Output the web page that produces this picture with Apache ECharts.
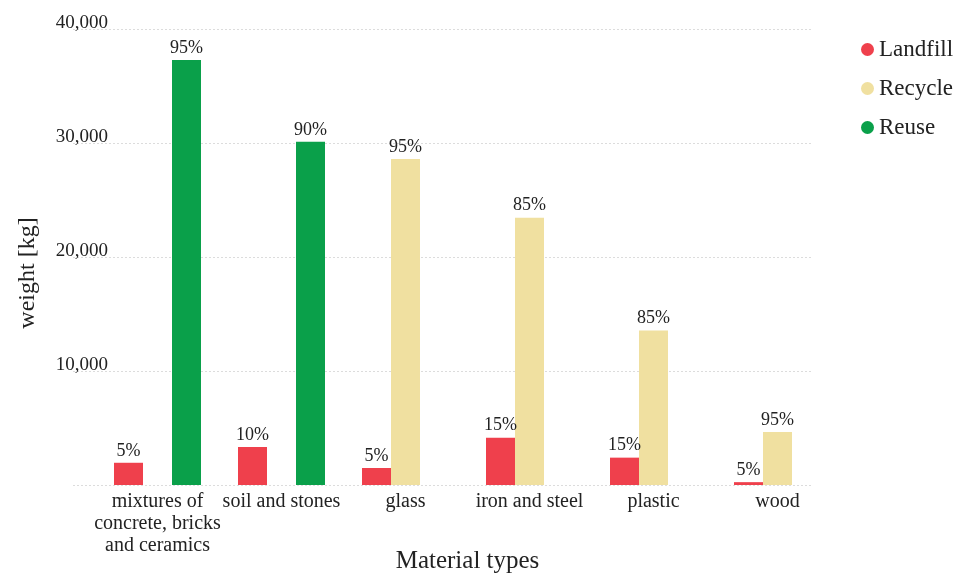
<!DOCTYPE html>
<html>
<head>
<meta charset="utf-8">
<script src="https://cdn.jsdelivr.net/npm/echarts@6/dist/echarts.min.js"></script>
<style>
  html, body { margin: 0; padding: 0; background: #fff; }
  #chart { width: 969px; height: 577px; }
</style>
</head>
<body>
<div id="chart"></div>
<script>
const categories = [
    "mixtures of\nconcrete, bricks\nand ceramics",
    "soil and stones",
    "glass",
    "iron and steel",
    "plastic",
    "wood"
];
const landfill = [1950, 3330, 1490, 4150, 2400, 250];
const recycle = [null, null, 28600, 23450, 13550, 4650];
const reuse = [37280, 30100, null, null, null, null];
const landfillPct = ["5%", "10%", "5%", "15%", "15%", "5%"];
const recyclePct = [null, null, "95%", "85%", "85%", "95%"];
const reusePct = ["95%", "90%", null, null, null, null];
const yTicks = [0, 10000, 20000, 30000, 40000];

const serif = "Liberation Serif";
const colors = { landfill: "#ef404c", recycle: "#f0e0a0", reuse: "#0aa04a" };

function barLabel(pcts) {
    return {
        show: true,
        position: "top",
        distance: 3,
        fontFamily: serif,
        fontSize: 18,
        color: "#222",
        formatter: (p) => pcts[p.dataIndex] || ""
    };
}

function barSeries(name, data, pcts, color) {
    return {
        name,
        type: "bar",
        xAxisIndex: 1,
        yAxisIndex: 1,
        data,
        barWidth: 29,
        barGap: "0%",
        itemStyle: { color },
        label: barLabel(pcts)
    };
}

const chart = echarts.init(document.getElementById("chart"));
chart.setOption({
    backgroundColor: "#fff",
    animation: false,
    legend: {
        orient: "vertical",
        left: 856,
        top: 33,
        itemGap: 16,
        icon: "circle",
        itemWidth: 13,
        itemHeight: 13,
        textStyle: { fontFamily: serif, fontSize: 23, color: "#222" },
        data: ["Landfill", "Recycle", "Reuse"]
    },
    grid: [
        { left: 73, right: 157, top: 29, bottom: 92, outerBoundsMode: "none" },
        { left: 95.5, width: 744, top: 29, bottom: 92, outerBoundsMode: "none" }
    ],
    xAxis: [
        { type: "value", gridIndex: 0, show: false },
        {
            type: "category",
            gridIndex: 1,
            data: categories,
            axisLine: { show: false },
            axisTick: { show: false },
            axisLabel: {
                fontFamily: serif,
                fontSize: 20,
                lineHeight: 22,
                color: "#222",
                margin: 6,
                interval: 0
            },
            name: "Material types",
            nameLocation: "middle",
            nameGap: 64,
            nameMoveOverlap: false,
            nameTextStyle: { fontFamily: serif, fontSize: 25, color: "#222" }
        }
    ],
    yAxis: [
        {
            type: "value",
            gridIndex: 0,
            min: yTicks[0],
            max: yTicks[yTicks.length - 1],
            interval: yTicks[1] - yTicks[0],
            axisLine: { show: false },
            axisTick: { show: false },
            splitLine: { lineStyle: { color: "#dcdcdc", type: [2, 2], width: 1 } },
            axisLabel: {
                showMinLabel: false,
                fontFamily: serif,
                fontSize: 19,
                lineHeight: 11,
                color: "#222",
                margin: -35,
                verticalAlign: "bottom",
                formatter: (v) => v.toLocaleString("en-US")
            },
            name: "weight [kg]",
            nameLocation: "middle",
            nameGap: 33,
            nameMoveOverlap: false,
            nameTextStyle: { fontFamily: serif, fontSize: 24, color: "#222", padding: [0, 32, 0, 0] }
        },
        {
            type: "value",
            gridIndex: 1,
            min: yTicks[0],
            max: yTicks[yTicks.length - 1],
            show: false,
            splitLine: { show: false }
        }
    ],
    series: [
        barSeries("Landfill", landfill, landfillPct, colors.landfill),
        barSeries("Recycle", recycle, recyclePct, colors.recycle),
        barSeries("Reuse", reuse, reusePct, colors.reuse)
    ]
});
</script>
</body>
</html>
